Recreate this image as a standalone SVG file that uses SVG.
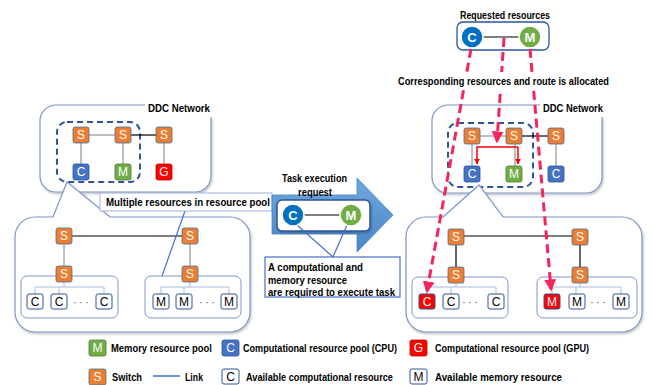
<svg xmlns="http://www.w3.org/2000/svg" width="653" height="385" viewBox="0 0 653 385">
<defs>
<style>
.sw{fill:#ED7D31;stroke:#41719C;stroke-width:0.8}
.cpu{fill:#4472C4;stroke:#2F5597;stroke-width:0.8}
.mem{fill:#70AD47;stroke:#507E32;stroke-width:0.8}
.gpu{fill:#FF0000;stroke:#C00000;stroke-width:0.8}
.av{fill:#fff;stroke:#2F5597;stroke-width:1}
.hot{fill:#FF0000;stroke:#2F5597;stroke-width:1}
.nt{font-family:"Liberation Sans",Arial,sans-serif;font-size:12px;fill:#fff;text-anchor:middle;dominant-baseline:central}
.nk{font-family:"Liberation Sans",Arial,sans-serif;font-size:12px;fill:#000;text-anchor:middle;dominant-baseline:central}
.dots{font-family:"Liberation Sans",Arial,sans-serif;font-size:10px;fill:#404040;text-anchor:middle;dominant-baseline:central}
.ct{font-family:"Liberation Sans",Arial,sans-serif;font-size:13px;font-weight:bold;fill:#fff;text-anchor:middle;dominant-baseline:central}
.lb{font-family:"Liberation Sans",Arial,sans-serif;font-size:11px;font-weight:bold;fill:#000;dominant-baseline:central}
.lg{font-family:"Liberation Sans",Arial,sans-serif;font-size:10px;font-weight:bold;fill:#000;dominant-baseline:central}
.big{fill:#fff;stroke:#7F96C8;stroke-width:1.2}
.dash{fill:none;stroke:#2F5597;stroke-width:2;stroke-dasharray:6 4}
.gl{stroke:#808080;stroke-width:1;fill:none}
.bl{stroke:#000;stroke-width:1.2;fill:none}
.tree{stroke:#A9BCDD;stroke-width:1;fill:none}
.pool{fill:#fff;stroke:#7F96C8;stroke-width:1}
.rd{stroke:#F5245B;stroke-width:3;stroke-dasharray:9 5;fill:none}
.rr{stroke:#FF0000;stroke-width:1.5;fill:none}
.call{stroke:#4472C4;stroke-width:1.2;fill:none}
</style>
<marker id="ah" viewBox="0 0 10 10" refX="8" refY="5" markerWidth="4" markerHeight="4" orient="auto"><path d="M0,0 L10,5 L0,10 z" fill="#F5245B"/></marker>
<marker id="ahr" viewBox="0 0 10 10" refX="9" refY="5" markerWidth="4" markerHeight="4" orient="auto"><path d="M0,0 L10,5 L0,10 z" fill="#FF0000"/></marker>
<linearGradient id="ag" x1="0" y1="0" x2="0" y2="1"><stop offset="0" stop-color="#6FA8DC"/><stop offset="1" stop-color="#4A86C8"/></linearGradient>
<filter id="sh" x="-5%" y="-5%" width="112%" height="115%"><feDropShadow dx="1" dy="1.5" stdDeviation="1" flood-color="#000" flood-opacity="0.25"/></filter>
</defs>

<!-- LEFT DDC network -->
<g id="left-ddc">
<path class="big" filter="url(#sh)" fill="none" d="M145,105 H56 A16,16 0 0 0 40,121 V176 A16,16 0 0 0 56,192 H195 A16,16 0 0 0 211,176 V117"/>
<text class="lb" x="148" y="108" textLength="62" lengthAdjust="spacingAndGlyphs">DDC Network</text>
<rect class="dash" x="57" y="122" width="83" height="60" rx="10"/>
</g>
<g id="left-ddc-links">
<line class="gl" x1="89" y1="135" x2="115" y2="135"/>
<line class="bl" x1="131" y1="135" x2="156" y2="135"/>
<line class="gl" x1="81" y1="143" x2="81" y2="164"/>
<line class="gl" x1="123" y1="143" x2="123" y2="164"/>
<line class="gl" x1="164" y1="143" x2="164" y2="164"/>
</g>
<g id="l-s1"><rect class="sw" x="73" y="127" width="16" height="16" rx="2"/><text class="nt" x="81" y="135">S</text></g>
<g id="l-s2"><rect class="sw" x="115" y="127" width="16" height="16" rx="2"/><text class="nt" x="123" y="135">S</text></g>
<g id="l-s3"><rect class="sw" x="156" y="127" width="16" height="16" rx="2"/><text class="nt" x="164" y="135">S</text></g>
<g id="l-c"><rect class="cpu" x="73" y="164" width="16" height="16" rx="2"/><text class="nt" x="81" y="172">C</text></g>
<g id="l-m"><rect class="mem" x="115" y="164" width="16" height="16" rx="2"/><text class="nt" x="123" y="172">M</text></g>
<g id="l-g"><rect class="gpu" x="156" y="164" width="16" height="16" rx="2"/><text class="nt" x="164" y="172">G</text></g>

<!-- LEFT lower pool box -->
<g id="left-pool">
<path class="big" filter="url(#sh)" d="M53,217 L67,182 L110,217 H230 A20,20 0 0 1 250,237 V312 A20,20 0 0 1 230,332 H35 A20,20 0 0 1 15,312 V237 A20,20 0 0 1 35,217 Z"/>
<rect class="pool" x="21" y="276" width="97" height="42" rx="6"/>
<rect class="pool" x="145" y="276" width="96" height="42" rx="6"/>
</g>
<g id="left-pool-links">
<line class="bl" x1="72" y1="236" x2="182" y2="236"/>
<line class="gl" x1="64" y1="244" x2="64" y2="266"/>
<line class="gl" x1="190" y1="244" x2="190" y2="266"/>
<path class="tree" d="M35,294 V287 H104 V294 M59,287 V294 M64,282 V287"/>
<path class="tree" d="M161,294 V287 H229 V294 M184,287 V294 M190,282 V287"/>
</g>
<g id="lp-s1"><rect class="sw" x="56" y="228" width="16" height="16" rx="2"/><text class="nt" x="64" y="236">S</text></g>
<g id="lp-s2"><rect class="sw" x="182" y="228" width="16" height="16" rx="2"/><text class="nt" x="190" y="236">S</text></g>
<g id="lp-s3"><rect class="sw" x="56" y="266" width="16" height="16" rx="2"/><text class="nt" x="64" y="274">S</text></g>
<g id="lp-s4"><rect class="sw" x="182" y="266" width="16" height="16" rx="2"/><text class="nt" x="190" y="274">S</text></g>
<g id="lp-c1"><rect class="av" x="27" y="294" width="16" height="15" rx="2"/><text class="nk" x="35" y="302">C</text></g>
<g id="lp-c2"><rect class="av" x="51" y="294" width="16" height="15" rx="2"/><text class="nk" x="59" y="302">C</text></g>
<text class="dots" x="81" y="302">· · ·</text>
<g id="lp-c3"><rect class="av" x="96" y="294" width="16" height="15" rx="2"/><text class="nk" x="104" y="302">C</text></g>
<g id="lp-m1"><rect class="av" x="153" y="294" width="16" height="15" rx="2"/><text class="nk" x="161" y="302">M</text></g>
<g id="lp-m2"><rect class="av" x="176" y="294" width="16" height="15" rx="2"/><text class="nk" x="184" y="302">M</text></g>
<text class="dots" x="207" y="302">· · ·</text>
<g id="lp-m3"><rect class="av" x="221" y="294" width="16" height="15" rx="2"/><text class="nk" x="229" y="302">M</text></g>

<!-- Multiple resources callout -->
<g id="multi-callout">
<line class="call" x1="185" y1="211" x2="162" y2="276"/>
<rect x="100" y="193" width="172" height="18" fill="#fff" stroke="#9DB3DF" stroke-width="1"/>
<text class="lb" x="106" y="202" textLength="164" lengthAdjust="spacingAndGlyphs">Multiple resources in resource pool</text>
</g>

<!-- Task execution arrow -->
<g id="task-arrow">
<polygon points="272,195 357,195 357,178 393,215 357,252 357,234 272,234" fill="url(#ag)" stroke="#4A86C8" stroke-width="0.8"/>
<text class="lb" x="282" y="178" textLength="65" lengthAdjust="spacingAndGlyphs">Task execution</text>
<text class="lb" x="298" y="192" textLength="34" lengthAdjust="spacingAndGlyphs">request</text>
<rect x="277" y="200" width="93" height="31" rx="5" fill="#fff" stroke="#2F5597" stroke-width="1.5" filter="url(#sh)"/>
<line class="bl" x1="304" y1="215" x2="340" y2="215"/>
<line class="call" x1="297" y1="225" x2="333" y2="257"/>
<line class="call" x1="347" y1="225" x2="333" y2="257"/>
<circle cx="293" cy="215" r="11" fill="#0070C0" stroke="#fff" stroke-width="1.5"/><text class="ct" x="293" y="215">C</text>
<circle cx="351" cy="215" r="11" fill="#70AD47" stroke="#fff" stroke-width="1.5"/><text class="ct" x="351" y="215">M</text>
</g>
<g id="req-callout">
<rect x="265" y="257" width="135" height="40" fill="#fff" stroke="#4472C4" stroke-width="1.2"/>
<text class="lb" x="268" y="267" textLength="95" lengthAdjust="spacingAndGlyphs">A computational and</text>
<text class="lb" x="268" y="279.5" textLength="79" lengthAdjust="spacingAndGlyphs">memory resource</text>
<text class="lb" x="268" y="292" textLength="127" lengthAdjust="spacingAndGlyphs">are required to execute task</text>
</g>

<!-- RIGHT DDC network -->
<g id="right-ddc">
<path class="big" filter="url(#sh)" fill="none" d="M540,105 H448 A16,16 0 0 0 432,121 V177 A16,16 0 0 0 448,193 H586 A16,16 0 0 0 602,177 V117"/>
<text class="lb" x="543" y="108" textLength="60" lengthAdjust="spacingAndGlyphs">DDC Network</text>
<rect class="dash" x="448" y="123" width="85" height="64" rx="10"/>
</g>
<g id="right-ddc-links">
<line class="gl" x1="480" y1="136" x2="506" y2="136"/>
<line class="bl" x1="522" y1="136" x2="548" y2="136"/>
<line class="gl" x1="472" y1="144" x2="472" y2="166"/>
<line class="gl" x1="515" y1="144" x2="515" y2="166"/>
<line class="gl" x1="556" y1="144" x2="556" y2="166" stroke="#BFBFBF"/>
<path class="rr" d="M518,147 H477 V164" marker-end="url(#ahr)"/>
<path class="rr" d="M518,147 V164" marker-end="url(#ahr)"/>
</g>
<g id="r-s1"><rect class="sw" x="464" y="128" width="16" height="16" rx="2"/><text class="nt" x="472" y="136">S</text></g>
<g id="r-s2"><rect class="sw" x="506" y="128" width="16" height="16" rx="2"/><text class="nt" x="514" y="136">S</text></g>
<g id="r-s3"><rect class="sw" x="548" y="128" width="16" height="16" rx="2"/><text class="nt" x="556" y="136">S</text></g>
<g id="r-c"><rect class="cpu" x="464" y="166" width="16" height="16" rx="2"/><text class="nt" x="472" y="174">C</text></g>
<g id="r-m"><rect class="mem" x="506" y="166" width="16" height="16" rx="2"/><text class="nt" x="514" y="174">M</text></g>
<g id="r-c2"><rect class="cpu" x="548" y="166" width="16" height="16" rx="2"/><text class="nt" x="556" y="174">C</text></g>

<!-- RIGHT lower pool box -->
<g id="right-pool">
<path class="big" filter="url(#sh)" d="M443,217 L479,185 L503,217 H622 A20,20 0 0 1 642,237 V312 A20,20 0 0 1 622,332 H426 A20,20 0 0 1 406,312 V237 A20,20 0 0 1 426,217 Z"/>
<rect class="pool" x="412" y="277" width="96" height="41" rx="6"/>
<rect class="pool" x="537" y="277" width="100" height="41" rx="6"/>
</g>
<g id="right-pool-links">
<line class="bl" x1="463" y1="236" x2="572" y2="236"/>
<line class="bl" x1="456" y1="245" x2="456" y2="267"/>
<line class="bl" x1="580" y1="245" x2="580" y2="267"/>
<path class="tree" d="M427,294 V287 H496 V294 M451,287 V294 M456,283 V287"/>
<path class="tree" d="M552,294 V287 H621 V294 M576,287 V294 M580,283 V287"/>
</g>
<g id="rp-s1"><rect class="sw" x="448" y="229" width="16" height="16" rx="2"/><text class="nt" x="456" y="237">S</text></g>
<g id="rp-s2"><rect class="sw" x="572" y="229" width="16" height="16" rx="2"/><text class="nt" x="580" y="237">S</text></g>
<g id="rp-s3"><rect class="sw" x="448" y="267" width="16" height="16" rx="2"/><text class="nt" x="456" y="275">S</text></g>
<g id="rp-s4"><rect class="sw" x="572" y="267" width="16" height="16" rx="2"/><text class="nt" x="580" y="275">S</text></g>
<g id="rp-c1"><rect class="hot" x="419" y="294" width="16" height="15" rx="2"/><text class="nt" x="427" y="302">C</text></g>
<g id="rp-c2"><rect class="av" x="443" y="294" width="16" height="15" rx="2"/><text class="nk" x="451" y="302">C</text></g>
<text class="dots" x="470" y="302">· · ·</text>
<g id="rp-c3"><rect class="av" x="488" y="294" width="16" height="15" rx="2"/><text class="nk" x="496" y="302">C</text></g>
<g id="rp-m1"><rect class="hot" x="544" y="294" width="16" height="15" rx="2"/><text class="nt" x="552" y="302">M</text></g>
<g id="rp-m2"><rect class="av" x="569" y="294" width="16" height="15" rx="2"/><text class="nk" x="577" y="302">M</text></g>
<text class="dots" x="598" y="302">· · ·</text>
<g id="rp-m3"><rect class="av" x="613" y="294" width="16" height="15" rx="2"/><text class="nk" x="621" y="302">M</text></g>

<!-- Requested resources -->
<g id="requested">
<text class="lb" x="460" y="15" textLength="90" lengthAdjust="spacingAndGlyphs">Requested resources</text>
<rect x="457" y="22" width="92" height="28" rx="6" fill="#fff" stroke="#2F5597" stroke-width="1.3"/>
<line class="bl" x1="483" y1="37" x2="519" y2="37"/>
<circle cx="472" cy="37" r="11" fill="#0070C0" stroke="#fff" stroke-width="1.5"/><text class="ct" x="472" y="37">C</text>
<circle cx="530" cy="37" r="11" fill="#70AD47" stroke="#fff" stroke-width="1.5"/><text class="ct" x="530" y="37">M</text>
</g>

<!-- allocation connectors -->
<g id="connectors">
<line class="rd" x1="471" y1="49" x2="427" y2="291" marker-end="url(#ah)"/>
<line class="rd" x1="504" y1="38" x2="497" y2="141" marker-end="url(#ah)"/>
<line class="rd" x1="530" y1="49" x2="551" y2="289" marker-end="url(#ah)"/>
</g>
<g id="alloc-label">
<rect x="396" y="72" width="216" height="18" fill="#fff"/>
<text class="lb" x="398" y="81" textLength="211" lengthAdjust="spacingAndGlyphs">Corresponding resources and route is allocated</text>
</g>

<!-- Legend -->
<g id="legend">
<rect class="mem" x="89" y="340" width="17" height="16" rx="2"/><text class="nt" x="97.5" y="348">M</text>
<text class="lg" x="111" y="348" textLength="101" lengthAdjust="spacingAndGlyphs">Memory resource pool</text>
<rect class="cpu" x="222" y="340" width="17" height="16" rx="2"/><text class="nt" x="230.5" y="348">C</text>
<text class="lg" x="243" y="348" textLength="154" lengthAdjust="spacingAndGlyphs">Computational resource pool (CPU)</text>
<rect class="gpu" x="410" y="340" width="17" height="16" rx="2"/><text class="nt" x="418.5" y="348">G</text>
<text class="lg" x="435" y="348" textLength="154" lengthAdjust="spacingAndGlyphs">Computational resource pool (GPU)</text>
<rect class="sw" x="89" y="369" width="17" height="16" rx="2"/><text class="nt" x="97.5" y="377">S</text>
<text class="lg" x="112" y="377" textLength="30" lengthAdjust="spacingAndGlyphs">Switch</text>
<line x1="153" y1="376" x2="180" y2="376" stroke="#4472C4" stroke-width="1.5"/>
<text class="lg" x="185" y="377" textLength="18" lengthAdjust="spacingAndGlyphs">Link</text>
<rect class="av" x="222" y="369" width="17" height="15" rx="2"/><text class="nk" x="230.5" y="377">C</text>
<text class="lg" x="246" y="377" textLength="147" lengthAdjust="spacingAndGlyphs">Available computational resource</text>
<rect class="av" x="410" y="369" width="17" height="15" rx="2"/><text class="nk" x="418.5" y="377">M</text>
<text class="lg" x="435" y="377" textLength="127" lengthAdjust="spacingAndGlyphs">Available memory resource</text>
</g>
</svg>
